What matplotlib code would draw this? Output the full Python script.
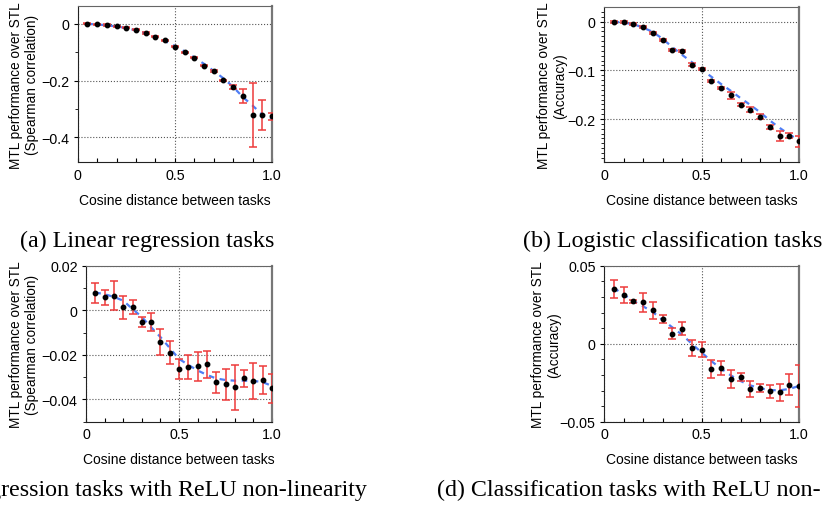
import matplotlib
matplotlib.use("Agg")
import matplotlib.pyplot as plt
import numpy as np

# Cosine distance bins shared by all panels
dist = [0.05, 0.10, 0.15, 0.20, 0.25, 0.30, 0.35, 0.40, 0.45, 0.50,
        0.55, 0.60, 0.65, 0.70, 0.75, 0.80, 0.85, 0.90, 0.95, 1.00]

# (a) linear regression
lin_mean = [0.0, -0.001, -0.004, -0.008, -0.014, -0.021, -0.032, -0.045, -0.058, -0.081,
            -0.100, -0.120, -0.148, -0.166, -0.199, -0.222, -0.254, -0.321, -0.321, -0.326]
lin_err = [0.002, 0.002, 0.002, 0.002, 0.002, 0.002, 0.002, 0.002, 0.002, 0.002,
           0.002, 0.002, 0.002, 0.002, 0.002, 0.007, 0.026, 0.112, 0.052, 0.013]
lin_fit = [0.0, -0.002, -0.005, -0.009, -0.015, -0.023, -0.033, -0.046, -0.061, -0.078,
           -0.097, -0.118, -0.141, -0.166, -0.192, -0.222, -0.258, -0.288, -0.320, -0.335]

# (b) logistic classification
log_mean = [0.0, -0.001, -0.005, -0.011, -0.024, -0.037, -0.058, -0.060, -0.088, -0.098,
            -0.121, -0.136, -0.151, -0.171, -0.181, -0.195, -0.216, -0.235, -0.234, -0.246]
log_err = [0.002, 0.002, 0.002, 0.002, 0.002, 0.002, 0.002, 0.002, 0.003, 0.002,
           0.002, 0.002, 0.0075, 0.003, 0.005, 0.005, 0.004, 0.010, 0.006, 0.012]
log_fit = [0.0, -0.002, -0.005, -0.012, -0.021, -0.035, -0.052, -0.068, -0.083, -0.098,
           -0.113, -0.128, -0.142, -0.157, -0.171, -0.186, -0.203, -0.218, -0.232, -0.243]

# (c) regression with ReLU
relu_reg_mean = [0.0079, 0.0058, 0.0066, 0.0013, 0.0013, -0.0052, -0.0054, -0.0142, -0.0191, -0.0264,
                 -0.0255, -0.0252, -0.0243, -0.0322, -0.0333, -0.0346, -0.0306, -0.0316, -0.0313, -0.0351]
relu_reg_err = [0.0045, 0.0034, 0.0065, 0.0052, 0.0031, 0.0022, 0.0041, 0.0057, 0.0051, 0.0045,
                0.0053, 0.0065, 0.0062, 0.0047, 0.0068, 0.0100, 0.0037, 0.0081, 0.0063, 0.0066]
relu_reg_fit = [0.0080, 0.0072, 0.0060, 0.0043, 0.0006, -0.0030, -0.0076, -0.0120, -0.0169, -0.0218,
                -0.0245, -0.0270, -0.0290, -0.0306, -0.0313, -0.0316, -0.0316, -0.0317, -0.0322, -0.0340]

# (d) classification with ReLU
relu_cls_mean = [0.0348, 0.0310, 0.0271, 0.0265, 0.0214, 0.0156, 0.0064, 0.0096, -0.0026, -0.0038,
                 -0.0162, -0.0156, -0.0226, -0.0212, -0.0291, -0.0284, -0.0306, -0.0312, -0.0263, -0.0271]
relu_cls_err = [0.0058, 0.0052, 0.0007, 0.0061, 0.0053, 0.0026, 0.0035, 0.0041, 0.0052, 0.0050,
                0.0057, 0.0047, 0.0060, 0.0027, 0.0053, 0.0024, 0.0041, 0.0053, 0.0068, 0.0132]
relu_cls_fit = [0.0357, 0.0316, 0.0274, 0.0240, 0.0203, 0.0154, 0.0105, 0.0058, 0.0000, -0.0056,
                -0.0111, -0.0160, -0.0203, -0.0239, -0.0267, -0.0286, -0.0297, -0.0299, -0.0290, -0.0271]

x_ticks = [0, 0.5, 1.0]
x_ticklabels = ["0", "0.5", "1.0"]
xlabel = "Cosine distance between tasks"

panels = [
    dict(mean=lin_mean, err=lin_err, fit=lin_fit, ylim=(-0.487, 0.062),
         yticks=[0, -0.2, -0.4], ylabels=["0", "\u22120.2", "\u22120.4"], yminor=0.1,
         ylabel="MTL performance over STL\n(Spearman correlation)",
         box=(77.7, 272, 7.3, 163), caption="(a) Linear regression tasks"),
    dict(mean=log_mean, err=log_err, fit=log_fit, ylim=(-0.289, 0.0296),
         yticks=[0, -0.1, -0.2], ylabels=["0", "\u22120.1", "\u22120.2"], yminor=0.01,
         ylabel="MTL performance over STL\n(Accuracy)",
         box=(604, 799, 8.3, 163.3), caption="(b) Logistic classification tasks"),
    dict(mean=relu_reg_mean, err=relu_reg_err, fit=relu_reg_fit, ylim=(-0.05, 0.02),
         yticks=[0.02, 0, -0.02, -0.04], ylabels=["0.02", "0", "\u22120.02", "\u22120.04"], yminor=0.01,
         ylabel="MTL performance over STL\n(Spearman correlation)",
         box=(86, 272, 266.7, 422.7), caption="(c) Regression tasks with ReLU non-linearity"),
    dict(mean=relu_cls_mean, err=relu_cls_err, fit=relu_cls_fit, ylim=(-0.05, 0.05),
         yticks=[0.05, 0, -0.05], ylabels=["0.05", "0", "\u22120.05"], yminor=0.01,
         ylabel="MTL performance over STL\n(Accuracy)",
         box=(604, 799, 266.7, 422.7), caption="(d) Classification tasks with ReLU non-"),
]

W, H = 824, 510
plt.rcParams['font.family'] = ['Liberation Sans', 'DejaVu Sans']
fig = plt.figure(figsize=(W / 100, H / 100), dpi=100)

label_x = [39, 567, 39, 561]   # pixel x of the right edge of the two-line y label
for p, lx in zip(panels, label_x):
    left, right, top, bottom = p["box"]
    ax = fig.add_axes([left / W, 1 - bottom / H, (right - left) / W, (bottom - top) / H])

    ax.plot(dist, p["fit"], color="#4f7df5", lw=1.6, ls=(0, (2.5, 2.5)), zorder=2)
    ax.errorbar(dist, p["mean"], yerr=p["err"], fmt="o", color="black", ms=3.2,
                ecolor="#ee3b3b", elinewidth=1.1, capsize=3, capthick=1.1, zorder=3)

    ax.set_xlim(0, 1.0)
    ax.set_ylim(*p["ylim"])
    ax.set_xticks(x_ticks)
    ax.set_xticklabels(x_ticklabels)
    ax.set_xticks(np.arange(0, 1.01, 0.1), minor=True)
    ax.set_yticks(p["yticks"])
    ax.set_yticklabels(p["ylabels"])
    lo, hi = p["ylim"]
    step = p["yminor"]
    ax.set_yticks(np.arange(np.ceil(lo / step) * step, hi + 1e-9, step), minor=True)

    ax.tick_params(axis="x", which="both", direction="in", length=3, width=0.8, labelsize=10.3, pad=4)
    ax.tick_params(axis="y", which="major", direction="out", length=3, width=0.8, labelsize=10.3, pad=3)
    ax.tick_params(axis="y", which="minor", direction="out", length=2, width=0.6)

    ax.grid(True, which="major", ls=":", color="#555555", lw=0.8)

    ax.spines["left"].set_color("#222222")
    ax.spines["bottom"].set_color("#222222")
    ax.spines["top"].set_color("#666666")
    ax.spines["top"].set_linewidth(0.8)
    ax.spines["right"].set_color("#777777")
    ax.spines["right"].set_linewidth(1.6)

    ax.set_xlabel(xlabel, fontsize=10, labelpad=8)
    ax.set_ylabel(p["ylabel"], fontsize=9.8, linespacing=1.2)
    ax.yaxis.set_label_coords((lx - left) / (right - left), 0.5)

# captions under each panel
serif = ["Liberation Serif", "DejaVu Serif"]
fig.text(147 / W, 1 - 241 / H, panels[0]["caption"], ha="center", va="center",
         fontsize=17.3, family=serif)
fig.text(822 / W, 1 - 241 / H, panels[1]["caption"], ha="right", va="center",
         fontsize=17.3, family=serif)
fig.text(367 / W, 1 - 490 / H, panels[2]["caption"], ha="right", va="center",
         fontsize=17.3, family=serif)
fig.text(821 / W, 1 - 490 / H, panels[3]["caption"], ha="right", va="center",
         fontsize=17.3, family=serif)

fig.savefig("out.png", dpi=100)
